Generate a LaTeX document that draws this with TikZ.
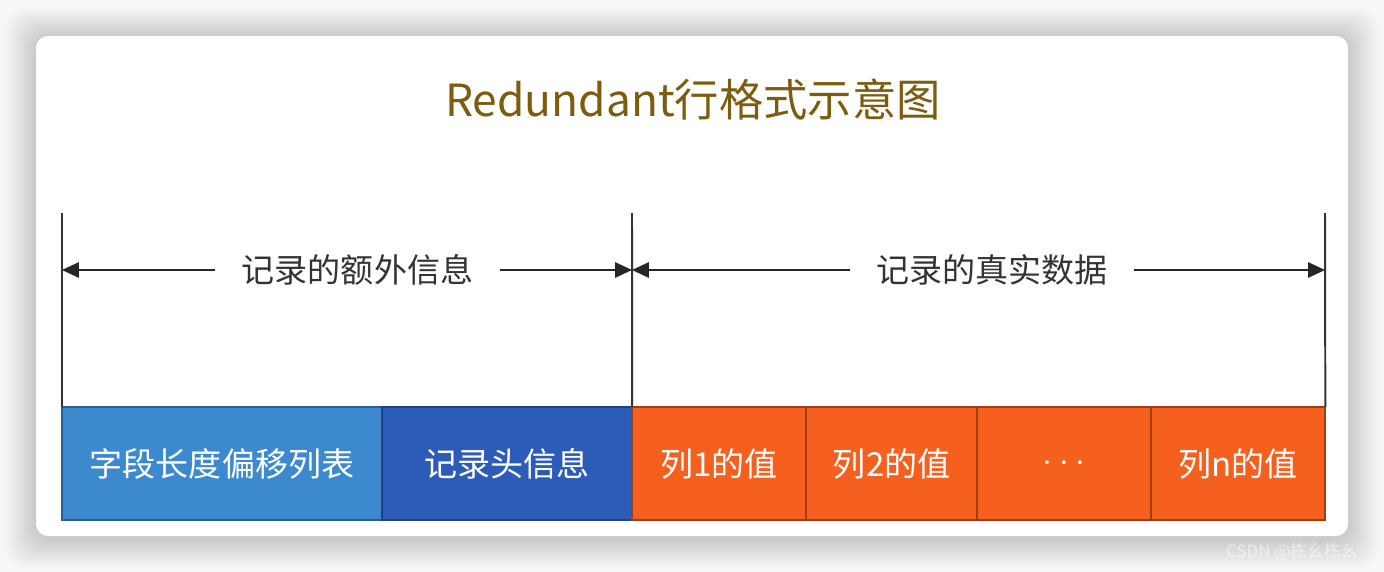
\documentclass[tikz,border=0pt]{standalone}
\usepackage{fontspec}
\setmainfont{Noto Sans CJK SC}
\usetikzlibrary{arrows.meta,positioning}
\definecolor{titlecolor}{HTML}{7D5C0E}
\definecolor{offsetcolor}{HTML}{3C89CF}
\definecolor{headercolor}{HTML}{2D5CB8}
\definecolor{valuecolor}{HTML}{F5601F}
\definecolor{ink}{HTML}{333333}
\tikzset{
  fieldbox/.style={
    draw,
    line width=1.4pt,
    inner sep=0pt,
    outer sep=0pt,
    minimum height=2.825cm,
    text=white,
    font=\fontsize{23.5}{28}\selectfont
  },
  offsetnode/.style={fieldbox, draw=offsetcolor!70!black, fill=offsetcolor},
  headernode/.style={fieldbox, draw=headercolor!70!black, fill=headercolor},
  valuenode/.style={fieldbox, draw=valuecolor!65!black, fill=valuecolor},
  spanlabel/.style={inner xsep=0.66cm, inner ysep=0pt, text=ink,
    font=\fontsize{23.5}{28}\selectfont},
  boundary/.style={line width=1.4pt, draw=ink},
  dimarrow/.style={-{Triangle[length=0.42cm,width=0.38cm]}, line width=1.4pt, draw=black!85}
}
\begin{document}
\begin{tikzpicture}[x=0.025cm, y=-0.025cm]
  \useasboundingbox (0,0) rectangle (1384,572);
  % card with soft shadow
  \fill[black!3] (0,0) rectangle (1384,572);
  \foreach \s in {2,4,...,30}
    \fill[black, opacity=0.012, rounded corners=0.5cm]
      (36-\s,38-\s) rectangle (1348+\s,538+\s);
  \fill[white, rounded corners=0.3cm] (36,36) rectangle (1348,536);

  \node[text=titlecolor, font=\fontsize{31.5}{38}\selectfont] (title) at (693,100) {Redundant行格式示意图};

  % row fields
  \node[offsetnode, minimum width=8cm, anchor=north west] (offs) at (62,407) {字段长度偏移列表};
  \node[headernode, minimum width=6.25cm, right=0pt of offs] (head) {记录头信息};
  \node[valuenode, minimum width=4.35cm, right=0pt of head] (col1) {列1的值};
  \node[valuenode, minimum width=4.275cm, right=0pt of col1] (col2) {列2的值};
  \node[valuenode, minimum width=4.35cm, right=0pt of col2] (dots) {$\cdot$\hspace{0.17cm}$\cdot$\hspace{0.17cm}$\cdot$};
  \node[valuenode, minimum width=4.35cm, right=0pt of dots] (coln) {列n的值};

  % boundaries
  \coordinate (top1) at (62,213);
  \coordinate (top2) at (632,213);
  \coordinate (top3) at (1325,213);
  \draw[boundary] (offs.north west) -- (top1);
  \draw[boundary] (col1.north west) -- (top2);
  \draw[boundary] (coln.north east) -- (top3);

  % spans
  \coordinate (tip1) at (62,270);
  \coordinate (tip2) at (632,270);
  \coordinate (tip3) at (1325,270);
  \node[spanlabel] (extra) at (357.5,270) {记录的额外信息};
  \node[spanlabel] (real) at (992,270) {记录的真实数据};
  \draw[dimarrow] (extra) -- (tip1);
  \draw[dimarrow] (extra) -- (tip2);
  \draw[dimarrow] (real) -- (tip2);
  \draw[dimarrow] (real) -- (tip3);

  \node[text=white, opacity=0.55, font=\fontsize{12}{14}\selectfont] (mark) at (1292,552) {CSDN @栋幺栋幺};
\end{tikzpicture}
\end{document}
